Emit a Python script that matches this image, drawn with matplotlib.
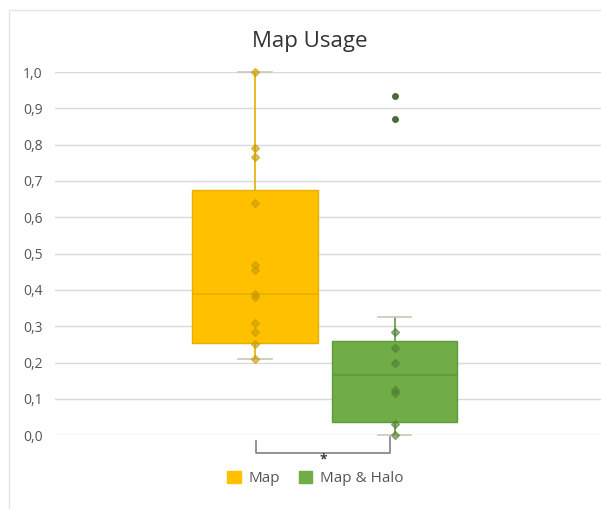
import matplotlib.pyplot as plt
import matplotlib.patches as mpatches
from matplotlib.ticker import FuncFormatter

plt.rcParams['font.family'] = ['Open Sans', 'DejaVu Sans']

# box statistics per condition (whislo, q1, med, q3, whishi)
labels = ['Map', 'Map & Halo']
whislo = [0.21, 0.0]
q1 = [0.255, 0.035]
med = [0.39, 0.167]
q3 = [0.675, 0.26]
whishi = [1.0, 0.325]

# individual observations shown on top of each box
map_points = [1.0, 0.79, 0.765, 0.64, 0.47, 0.455, 0.39, 0.38, 0.31, 0.285, 0.25, 0.21]
halo_points = [0.285, 0.24, 0.2, 0.125, 0.115, 0.03, 0.0]
halo_outliers = [0.935, 0.87]

yticks = [0.0, 0.1, 0.2, 0.3, 0.4, 0.5, 0.6, 0.7, 0.8, 0.9, 1.0]

face_colors = ['#FFC000', '#70AD47']
edge_colors = ['#E8AE00', '#5E9A3A']
point_colors = ['#C99A00', '#4F7F33']

fig = plt.figure(figsize=(6.01, 5.09), dpi=100)
ax = fig.add_axes([0.0915, 0.145, 0.9085, 0.7135])

# chart frame
fig.patches.append(mpatches.Rectangle((0.015, -0.01), 1.0, 0.99, transform=fig.transFigure,
                                      fill=False, edgecolor='#E4E4E4', linewidth=1.0))

stats = []
for i in range(2):
    stats.append({'label': labels[i], 'whislo': whislo[i], 'q1': q1[i], 'med': med[i],
                  'q3': q3[i], 'whishi': whishi[i], 'fliers': []})

positions = [1, 2]
bp = ax.bxp(stats, positions=positions, widths=0.9, patch_artist=True,
            showfliers=False, manage_ticks=False)
for i in range(2):
    bp['boxes'][i].set_facecolor(face_colors[i])
    bp['boxes'][i].set_edgecolor(edge_colors[i])
    bp['boxes'][i].set_linewidth(1.0)
    bp['boxes'][i].set_zorder(3)
    bp['medians'][i].set_color(edge_colors[i])
    bp['medians'][i].set_linewidth(1.2)
    bp['medians'][i].set_zorder(4)
for j, w in enumerate(bp['whiskers']):
    w.set_color(edge_colors[j // 2])
    w.set_linewidth(1.2)
    w.set_zorder(2)
    w.set_clip_on(False)
for j, c in enumerate(bp['caps']):
    c.set_color('#C8C8B8')
    c.set_linewidth(1.2)
    c.set_zorder(2)
    c.set_clip_on(False)
    c.set_xdata([positions[j // 2] - 0.12, positions[j // 2] + 0.12])

ax.plot([1] * len(map_points), map_points, 'D', ms=3.8, color=point_colors[0], alpha=0.6,
        zorder=5, clip_on=False)
ax.plot([2] * len(halo_points), halo_points, 'D', ms=3.8, color=point_colors[1], alpha=0.6,
        zorder=5, clip_on=False)
ax.plot([2] * len(halo_outliers), halo_outliers, 'o', ms=4, color='#4E6B3C',
        zorder=5, clip_on=False)

ax.set_xlim(-0.434, 3.48)
ax.set_ylim(0, 1)
ax.set_yticks(yticks)
ax.yaxis.set_major_formatter(FuncFormatter(lambda v, p: f'{v:.1f}'.replace('.', ',')))
ax.tick_params(axis='y', length=0, pad=9, labelsize=10, labelcolor='#555555')
ax.set_xticks([])
ax.grid(axis='y', color='#D9D9D9', linewidth=1.0)
ax.set_axisbelow(True)
for s in ax.spines.values():
    s.set_visible(False)

# significance bracket between the two conditions
ax.plot([1.01, 1.01, 1.97, 1.97], [-0.015, -0.05, -0.05, -0.005], color='#808080',
        linewidth=1.2, clip_on=False)
ax.text(1.49, -0.068, '*', ha='center', va='center', fontsize=10, fontweight='bold',
        color='#404040')

fig.text(0.516, 0.918, 'Map Usage', ha='center', va='center', fontsize=16, color='#333333')

handles = [mpatches.Patch(facecolor=face_colors[i], edgecolor=face_colors[i], label=labels[i])
           for i in range(2)]
fig.legend(handles=handles, loc='center', bbox_to_anchor=(0.525, 0.06), ncol=2, frameon=False,
           fontsize=11, handlelength=0.9, handleheight=0.9, handletextpad=0.5, columnspacing=1.2,
           labelcolor='#555555')

fig.savefig('out.png', dpi=100)
